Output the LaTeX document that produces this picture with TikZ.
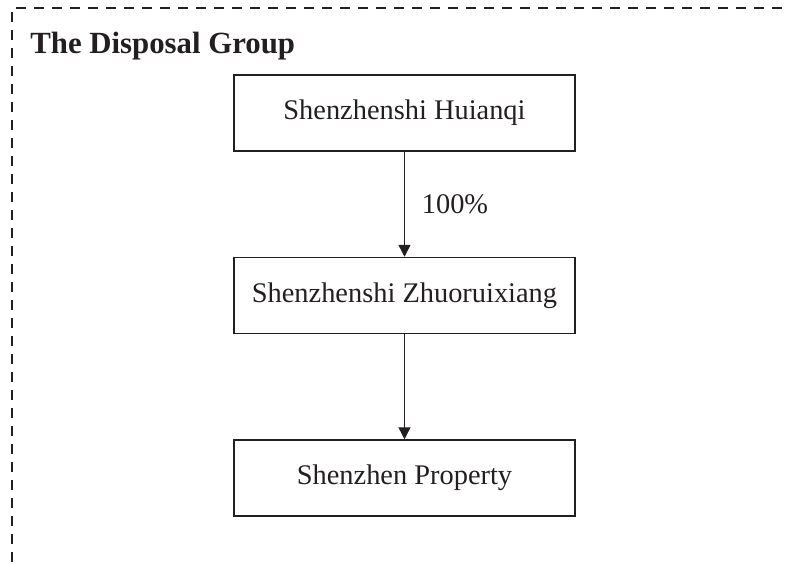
\documentclass[tikz,border=0pt]{standalone}
\usepackage{fontspec}
\setmainfont{Liberation Serif}
\usetikzlibrary{arrows.meta}
\definecolor{inkgrey}{HTML}{231F20}

\begin{document}
\begin{tikzpicture}[x=0.5pt,y=-0.5pt,
	entity_node/.style={rectangle,draw=inkgrey,line width=0.75pt,minimum width=170.5pt,minimum height=38pt,inner sep=0pt,font=\fontsize{14.2pt}{16pt}\selectfont,text=inkgrey},
	own_arrow/.style={draw=inkgrey,line width=0.7pt,-{Triangle[length=6pt,width=6pt]}}]

		\useasboundingbox (0,0) rectangle (788,564);
		\draw[inkgrey,line width=0.8pt,dash pattern=on 5pt off 4pt] (12,580) -- (12,8) -- (800,8);

		\node[anchor=base west,inner sep=0pt,text=inkgrey,font=\bfseries\fontsize{15.4pt}{18pt}\selectfont] (title) at (30,53) {The Disposal Group};

		\node[entity_node] (huianqi) at (404.5,113) {Shenzhenshi Huianqi};
		\node[entity_node] (zhuorui) at (404.5,295.5) {Shenzhenshi Zhuoruixiang};
		\node[entity_node] (property) at (404.5,478) {Shenzhen Property};

		\draw[own_arrow] (huianqi) -- node[midway,right=5pt,text=inkgrey,font=\fontsize{14.2pt}{16pt}\selectfont] (pct) {100\%} (zhuorui);
		\draw[own_arrow] (zhuorui) -- (property);
		\end{tikzpicture}
\end{document}
